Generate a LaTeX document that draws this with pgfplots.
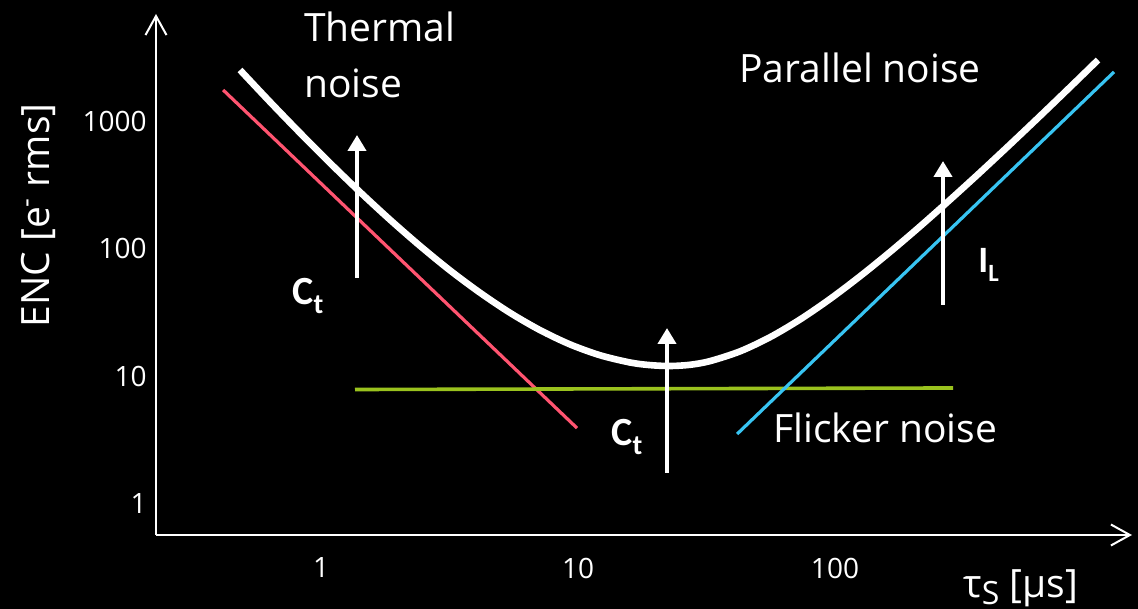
\documentclass[border=0pt]{standalone}
\usepackage{fontspec}
\setmainfont{Open Sans}
\newfontfamily\calfont{Carlito}
\usepackage{pgfplots}
\pgfplotsset{compat=1.18}
\usetikzlibrary{arrows.meta}

\definecolor{thermal}{HTML}{FF5470}
\definecolor{flicker}{HTML}{9AC21E}
\definecolor{parallel}{HTML}{38C4F2}

\begin{document}
\begin{tikzpicture}
% dark slide background
\fill[black] (-78pt,-37pt) rectangle (491pt,267.5pt);
\begin{axis}[
  at={(0,0)}, anchor=south west,
  scale only axis, width=488pt, height=260.5pt,
  xmode=log, ymode=log,
  xmin=0.2280, xmax=1431, ymin=0.5661, ymax=6954,
  axis lines=left,
  axis line style={white, line width=1pt},
  x axis line style={-{Straight Barb[length=9.5pt,width=10.5pt,line width=1pt]}},
  y axis line style={-{Straight Barb[length=9.5pt,width=10.5pt,line width=1pt]}},
  major tick length=0pt, minor tick num=0,
  tick style={draw=none},
  xtick={1,10,100}, xticklabels={1,10,100},
  ytick={1,10,100,1000}, yticklabels={1,10,100,1000},
  /pgf/number format/assume math mode=true,
  ticklabel style={white, font=\fontsize{14}{14}\selectfont},
  xticklabel style={anchor=center, yshift=-16.5pt},
  yticklabel style={anchor=east, inner sep=0pt, xshift=-4.5pt},
  clip=false,
]
% thermal noise
\addplot[thermal, line width=1.6pt] coordinates {(0.416,1762) (9.91,3.91)};
% flicker noise
\addplot[flicker, line width=1.8pt] coordinates {(1.356,7.85) (288,8.07)};
% parallel noise
\addplot[parallel, line width=1.6pt] coordinates {(41.6,3.51) (1218,2438)};
% total ENC
\addplot[white, line width=3.3pt, smooth] coordinates {
  (0.4841,2527) (0.6333,1420) (0.8285,810.9) (1.0839,470.7) (1.4182,278.6)
  (1.8556,168.9) (2.4278,105.2) (3.1765,67.56) (4.156,45.15) (5.4376,31.40)
  (7.1145,22.96) (9.3083,17.74) (12.179,14.58) (15.934,12.79) (19.06,12.20)
  (22.80,12.00) (27.28,12.27) (32.63,13.11) (42.69,15.64) (55.86,20.20)
  (73.08,27.81) (95.62,40.29) (125.1,60.73) (163.7,94.21) (214.2,149.6)
  (280.2,242.0) (366.6,396.4) (479.7,657.5) (627.6,1099) (821.1,1852)
  (1055.2,3028)};
\end{axis}
% annotations, in slide pixel units
\begin{scope}[x=0.5pt, y=-0.5pt, shift={(-78pt,267.5pt)}]
  \tikzset{lbl/.style={white, inner sep=0pt, anchor=base west, font=\fontsize{19.5}{20}\selectfont}}
  \draw[white, line width=2pt, -{Triangle[length=8pt,width=9pt]}] (357,278) -- (357,135);
  \draw[white, line width=2pt, -{Triangle[length=8pt,width=9pt]}] (667,473) -- (667,328);
  \draw[white, line width=2pt, -{Triangle[length=8pt,width=9pt]}] (943,305) -- (943,161);
  \node[lbl] at (304,42) {Thermal};
  \node[lbl] at (304,98) {noise};
  \node[lbl] at (739,83) {Parallel noise};
  \node[lbl] at (773,443) {Flicker noise};
  \node[white, inner sep=0pt, anchor=base west] at (292,305)
    {\calfont\bfseries\fontsize{20}{20}\selectfont C\raisebox{-4.5pt}{\fontsize{14}{14}\selectfont t}};
  \node[white, inner sep=0pt, anchor=base west] at (611,446)
    {\calfont\bfseries\fontsize{20}{20}\selectfont C\raisebox{-4.5pt}{\fontsize{14}{14}\selectfont t}};
  \node[white, inner sep=0pt, anchor=base west] at (978,273)
    {\calfont\bfseries\fontsize{18.6}{19}\selectfont I\raisebox{-4.5pt}{\fontsize{12.4}{12.4}\selectfont L}};
  \node[white, inner sep=0pt, anchor=base, rotate=90, font=\fontsize{19.5}{20}\selectfont]
    at (50,215.5) {ENC [e\textsuperscript{-} rms]};
  \node[lbl] at (963,597) {τ\raisebox{-3.5pt}{\fontsize{16}{16}\selectfont S} [µs]};
\end{scope}
\pgfresetboundingbox
\path[use as bounding box] (-78pt,-37pt) rectangle (491pt,267.5pt);
\end{tikzpicture}
\end{document}
